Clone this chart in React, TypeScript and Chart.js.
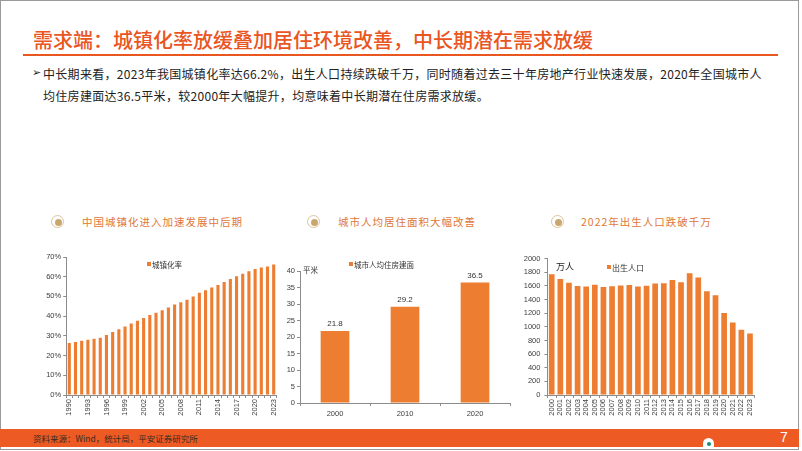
import React, { useEffect, useRef } from "react";
import Chart from "chart.js/auto";

const urbanYears = ["1990","1991","1992","1993","1994","1995","1996","1997","1998","1999","2000","2001","2002","2003","2004","2005","2006","2007","2008","2009","2010","2011","2012","2013","2014","2015","2016","2017","2018","2019","2020","2021","2022","2023"];
const urbanRate = [26.41,26.94,27.46,27.99,28.51,29.04,30.48,31.91,33.35,34.78,36.22,37.66,39.09,40.53,41.76,42.99,44.34,45.89,46.99,48.34,49.95,51.83,53.1,54.49,55.75,57.33,58.84,60.24,61.5,62.71,63.89,64.72,65.22,66.16];

const areaYears = ["2000","2010","2020"];
const areaValues = [21.8, 29.2, 36.5];

const birthYears = ["2000","2001","2002","2003","2004","2005","2006","2007","2008","2009","2010","2011","2012","2013","2014","2015","2016","2017","2018","2019","2020","2021","2022","2023"];
const births = [1771,1702,1647,1599,1593,1617,1585,1595,1608,1615,1592,1604,1635,1640,1687,1655,1786,1723,1523,1465,1202,1062,956,902];

const ORANGE = "#ED7D31";
const AXIS = "#8C8C8C";
const TICK = "#404040";
const FONT = "'Liberation Sans', Arial, sans-serif";

function makeChart(
  canvas: HTMLCanvasElement,
  labels: string[],
  data: number[],
  o: {
    yW: number; xH: number; top: number; right: number; max: number; step: number;
    fmt?: (v: number) => string; pct: number; rotate: boolean; skip?: number;
    yPad: number; xPad: number; dataLabels?: boolean; xTickLen: number;
  }
) {
  const dl = {
    id: "dl",
    afterDatasetsDraw(chart: any) {
      if (!o.dataLabels) return;
      const ctx = chart.ctx;
      const meta = chart.getDatasetMeta(0);
      ctx.save();
      ctx.font = `8px ${FONT}`;
      ctx.fillStyle = "#333";
      ctx.textAlign = "center";
      ctx.textBaseline = "bottom";
      meta.data.forEach((el: any, i: number) => {
        ctx.fillText(data[i].toFixed(1), el.x, el.y - 3);
      });
      ctx.restore();
    },
  };
  return new Chart(canvas, {
    type: "bar",
    data: {
      labels,
      datasets: [{ data, backgroundColor: ORANGE, borderWidth: 0, barPercentage: o.pct, categoryPercentage: 1 }],
    },
    plugins: [dl],
    options: {
      animation: false,
      responsive: false,
      maintainAspectRatio: false,
      layout: { padding: { top: o.top, right: o.right, left: 0, bottom: 0 } },
      plugins: { legend: { display: false }, tooltip: { enabled: false } },
      scales: {
        x: {
          afterFit: (s: any) => { s.height = o.xH; },
          grid: { display: true, drawOnChartArea: false, color: AXIS, tickLength: o.xTickLen, offset: true },
          border: { color: AXIS, width: 1 },
          ticks: {
            autoSkip: false,
            maxRotation: o.rotate ? 90 : 0,
            minRotation: o.rotate ? 90 : 0,
            padding: o.xPad,
            color: TICK,
            font: { size: 7.5, family: FONT },
            callback: (_v: any, i: number) => (o.skip && i % o.skip !== 0 ? "" : labels[i]),
          },
        },
        y: {
          min: 0,
          max: o.max,
          afterFit: (s: any) => { s.width = o.yW; },
          grid: { display: true, drawOnChartArea: false, color: AXIS, tickLength: 3 },
          border: { color: AXIS, width: 1 },
          ticks: {
            stepSize: o.step,
            padding: o.yPad,
            color: TICK,
            font: { size: 7.5, family: FONT },
            callback: (v: any) => (o.fmt ? o.fmt(Number(v)) : String(v)),
          },
        },
      },
    },
  });
}

const abs = (l: number, t: number, extra: React.CSSProperties = {}): React.CSSProperties => ({
  position: "absolute", left: l, top: t, ...extra,
});

function Header({ x, cx, y, text }: { x: number; cx: number; y: number; text: string }) {
  return (
    <>
      <div style={abs(cx - 7, y - 7, {
        width: 11, height: 11, borderRadius: "50%", border: "1.5px solid #dcc49e", background: "#fff",
      })} />
      <div style={abs(cx - 3.5, y - 3.5, {
        width: 7, height: 7, borderRadius: "50%", background: "#c9a66e",
      })} />
      <div style={abs(x, y - 8, {
        fontFamily: "'Noto Sans CJK SC', sans-serif", fontSize: 10.5, lineHeight: "16px",
        letterSpacing: 1, color: "#E0783A", whiteSpace: "nowrap",
      })}>{text}</div>
    </>
  );
}

function Legend({ x, y, text, size }: { x: number; y: number; text: string; size: number }) {
  return (
    <div style={abs(x, y - 6, { display: "flex", alignItems: "center", height: 12, whiteSpace: "nowrap",
      fontFamily: "'Noto Sans CJK SC', sans-serif", fontSize: size, color: "#333" })}>
      <span style={{ display: "inline-block", width: 4, height: 4, background: ORANGE, marginRight: 1 }} />
      {text}
    </div>
  );
}

export default function App() {
  const c1 = useRef<HTMLCanvasElement>(null);
  const c2 = useRef<HTMLCanvasElement>(null);
  const c3 = useRef<HTMLCanvasElement>(null);

  useEffect(() => {
    document.body.style.margin = "0";
    const a = makeChart(c1.current!, urbanYears, urbanRate, {
      yW: 46.2, xH: 30, top: 17, right: 8.2, max: 70, step: 10, fmt: (v) => v + "%",
      pct: 0.5, rotate: true, skip: 3, yPad: 2, xPad: 1, xTickLen: 3,
    });
    const b = makeChart(c2.current!, areaYears, areaValues, {
      yW: 25, xH: 22, top: 16, right: 5, max: 40, step: 5,
      pct: 0.41, rotate: false, yPad: 2, xPad: 3, dataLabels: true, xTickLen: 3,
    });
    const c = makeChart(c3.current!, birthYears, births, {
      yW: 42.4, xH: 30, top: 18.7, right: 10.7, max: 2000, step: 200,
      pct: 0.66, rotate: true, yPad: 4, xPad: 1, xTickLen: 3,
    });
    return () => { a.destroy(); b.destroy(); c.destroy(); };
  }, []);

  const cjk = "'Noto Sans CJK SC', sans-serif";

  return (
    <div style={{ position: "relative", width: 802, height: 451, background: "#fff", overflow: "hidden", fontFamily: cjk }}>
      <div style={abs(0, 0, { width: 797, height: 448, border: "1px solid #9a9a9a" })} />
      <div style={abs(33, 27, { fontSize: 20, lineHeight: "26px", color: "#E9561F", whiteSpace: "nowrap", letterSpacing: 0, fontWeight: 500 })}>
        需求端：城镇化率放缓叠加居住环境改善，中长期潜在需求放缓
      </div>
      <div style={abs(23, 54, { width: 755, height: 2, background: "#E9561F" })} />
      <div style={abs(32, 64, { fontSize: 11, lineHeight: "18px", color: "#222", fontFamily: "'DejaVu Sans', sans-serif" })}>➢</div>
      <div style={abs(43, 63, { fontSize: 12, lineHeight: "22px", color: "#222", whiteSpace: "nowrap", letterSpacing: 0.3 })}>
        中长期来看，2023年我国城镇化率达66.2%，出生人口持续跌破千万，同时随着过去三十年房地产行业快速发展，2020年全国城市人
        <br />
        均住房建面达36.5平米，较2000年大幅提升，均意味着中长期潜在住房需求放缓。
      </div>

      <Header cx={58} x={82} y={222} text="中国城镇化进入加速发展中后期" />
      <Header cx={314} x={338} y={222} text="城市人均居住面积大幅改善" />
      <Header cx={558} x={581} y={222} text="2022年出生人口跌破千万" />

      <canvas ref={c1} width={265} height={185} style={abs(20, 240, { width: 265, height: 185 })} />
      <canvas ref={c2} width={240} height={170} style={abs(275, 255, { width: 240, height: 170 })} />
      <canvas ref={c3} width={260} height={185} style={abs(505, 240, { width: 260, height: 185 })} />

      <Legend x={147} y={264} text="城镇化率" size={7.5} />
      <Legend x={349} y={264} text="城市人均住房建面" size={7.5} />
      <div style={abs(303, 264, { fontSize: 7.5, lineHeight: "12px", color: "#333" })}>平米</div>
      <Legend x={607} y={267} text="出生人口" size={8} />
      <div style={abs(556, 261, { fontSize: 9, lineHeight: "12px", color: "#222" })}>万人</div>

      <div style={abs(0, 429, { width: 799, height: 17.5, background: "#EE5A24" })} />
      <div style={abs(33, 431, { fontSize: 8.5, lineHeight: "14px", color: "#3a2a20", whiteSpace: "nowrap" })}>
        资料来源：Wind，统计局，平安证券研究所
      </div>
      <div style={abs(780, 428, { fontSize: 14, lineHeight: "18px", color: "#fff", fontFamily: FONT })}>7</div>
      <div style={abs(703, 438, { width: 11, height: 9, background: "#fff", borderRadius: "6px 6px 0 0" })} />
      <div style={abs(706.5, 442, { width: 4, height: 4, background: "#1a8c7a", borderRadius: "50%" })} />
    </div>
  );
}
